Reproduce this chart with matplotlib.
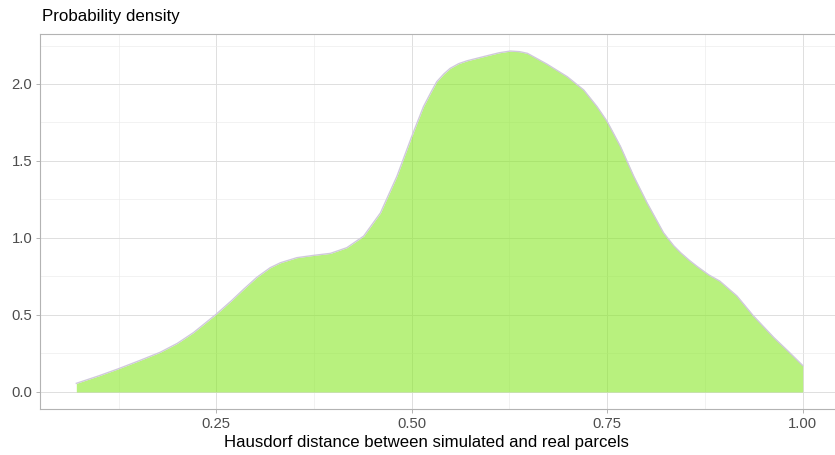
import matplotlib
matplotlib.use("Agg")
import matplotlib.pyplot as plt
from matplotlib.ticker import MultipleLocator

# Hausdorf distance (x) and estimated probability density (y)
distance = [0.071, 0.100, 0.124, 0.150, 0.178, 0.200, 0.221, 0.250, 0.270, 0.285,
            0.302, 0.319, 0.332, 0.353, 0.3745, 0.396, 0.417, 0.4385, 0.460, 0.481,
            0.500, 0.515, 0.525, 0.532, 0.541, 0.549, 0.560, 0.571, 0.596, 0.612,
            0.626, 0.638, 0.648, 0.673, 0.699, 0.720, 0.737, 0.750, 0.767, 0.784,
            0.801, 0.822, 0.835, 0.844, 0.855, 0.865, 0.880, 0.894, 0.916, 0.937,
            0.963, 0.982, 1.000]
density = [0.056, 0.105, 0.149, 0.200, 0.257, 0.315, 0.386, 0.505, 0.595, 0.667,
           0.745, 0.807, 0.839, 0.872, 0.887, 0.900, 0.937, 1.012, 1.163, 1.400,
           1.659, 1.853, 1.950, 2.015, 2.065, 2.101, 2.132, 2.151, 2.183, 2.203,
           2.214, 2.210, 2.199, 2.129, 2.047, 1.961, 1.853, 1.756, 1.594, 1.400,
           1.228, 1.034, 0.950, 0.904, 0.855, 0.815, 0.760, 0.720, 0.623, 0.494,
           0.354, 0.262, 0.172]

x_ticks = [0.25, 0.50, 0.75, 1.00]
x_tick_labels = ["0.25", "0.50", "0.75", "1.00"]
y_ticks = [0.0, 0.5, 1.0, 1.5, 2.0]
y_tick_labels = ["0.0", "0.5", "1.0", "1.5", "2.0"]
title = "Probability density"
xlabel = "Hausdorf distance between simulated and real parcels"

plt.rcParams['font.family'] = ['Liberation Sans', 'DejaVu Sans']

W, H = 835, 455
fig = plt.figure(figsize=(W / 100, H / 100), dpi=100)
left_px, right_px, top_px, bottom_px = 40, 839, 34, 409
ax = fig.add_axes([left_px / W, (H - bottom_px) / H,
                   (right_px - left_px) / W, (bottom_px - top_px) / H])

xr = max(distance) - min(distance)
ax.set_xlim(min(distance) - 0.05 * xr, max(distance) + 0.05 * xr)
ymax = max(density)
ax.set_ylim(-0.05 * ymax, ymax * 1.05)

ax.fill_between(distance, 0, density, color='#89e928', alpha=0.6, lw=0, zorder=3)
ax.plot(distance, density, color='#d0c9dc', lw=1.0, zorder=4,
        solid_joinstyle='round', antialiased=True)

ax.set_xticks(x_ticks)
ax.set_xticklabels(x_tick_labels)
ax.set_yticks(y_ticks)
ax.set_yticklabels(y_tick_labels)
ax.xaxis.set_minor_locator(MultipleLocator(0.125))
ax.yaxis.set_minor_locator(MultipleLocator(0.25))

ax.grid(which='major', color='#dedede', lw=0.7, zorder=0)
ax.grid(which='minor', color='#ebebeb', lw=0.45, zorder=0)
ax.set_axisbelow(True)

for s in ['left', 'bottom', 'top', 'right']:
    ax.spines[s].set_color('#b3b3b3')
    ax.spines[s].set_linewidth(0.8)

ax.tick_params(which='major', length=3, width=0.7, color='#b3b3b3',
               labelsize=10.7, labelcolor='#4d4d4d', pad=2.5)
ax.tick_params(which='minor', length=0)

fig.text(42 / W, 1 - 17 / H, title, ha='left', va='center', fontsize=12.2, color='black')
fig.text(426 / W, 1 - 443 / H, xlabel, ha='center', va='center', fontsize=12.1, color='black')

fig.savefig('out.png', dpi=100)
